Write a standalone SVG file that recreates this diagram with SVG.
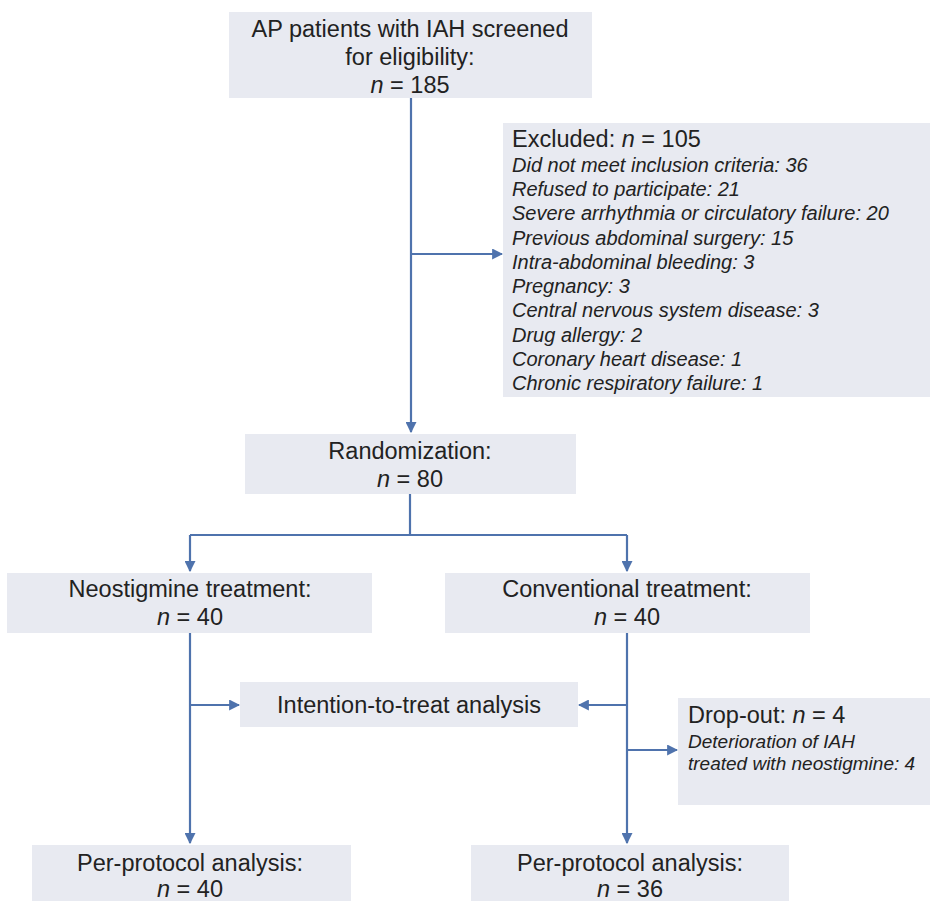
<svg xmlns="http://www.w3.org/2000/svg" width="930" height="901" viewBox="0 0 930 901">
<style>
.box{fill:#e8eaf1;}
.t{font-family:"Liberation Sans",Arial,sans-serif;font-size:23.5px;fill:#222;}
.c{text-anchor:middle;}
.s{font-family:"Liberation Sans",Arial,sans-serif;font-size:20px;font-style:italic;fill:#222;}
.ln{stroke:#4f73ad;stroke-width:2.2;fill:none;}
</style>
<defs>
<marker id="ah" viewBox="0 0 10 10" refX="9" refY="5" markerWidth="5" markerHeight="5" orient="auto" markerUnits="strokeWidth">
<path d="M0,0 L10,5 L0,10 z" fill="#4f73ad"/>
</marker>
</defs>
<rect width="930" height="901" fill="#ffffff"/>
<g id="connectors">
<path class="ln" d="M411,98 V432" marker-end="url(#ah)"/>
<path class="ln" d="M411,254 H502" marker-end="url(#ah)"/>
<path class="ln" d="M410,494 V535"/>
<path class="ln" d="M190,535 H627"/>
<path class="ln" d="M190,535 V571" marker-end="url(#ah)"/>
<path class="ln" d="M627,535 V571" marker-end="url(#ah)"/>
<path class="ln" d="M190,633 V843" marker-end="url(#ah)"/>
<path class="ln" d="M190,705 H239" marker-end="url(#ah)"/>
<path class="ln" d="M627,633 V843" marker-end="url(#ah)"/>
<path class="ln" d="M627,705 H579" marker-end="url(#ah)"/>
<path class="ln" d="M627,750 H677" marker-end="url(#ah)"/>
</g>
<g id="screened">
<rect class="box" x="229" y="12" width="363" height="86"/>
<text class="t c" x="410" y="37">AP patients with IAH screened</text>
<text class="t c" x="410" y="65">for eligibility:</text>
<text class="t c" x="410" y="93"><tspan font-style="italic">n</tspan> = 185</text>
</g>
<g id="excluded">
<rect class="box" x="503" y="123" width="427" height="274"/>
<text class="t" x="512" y="147">Excluded: <tspan font-style="italic">n</tspan> = 105</text>
<text class="s" x="512" y="172">Did not meet inclusion criteria: 36</text>
<text class="s" x="512" y="196">Refused to participate: 21</text>
<text class="s" x="512" y="220">Severe arrhythmia or circulatory failure: 20</text>
<text class="s" x="512" y="245">Previous abdominal surgery: 15</text>
<text class="s" x="512" y="269">Intra-abdominal bleeding: 3</text>
<text class="s" x="512" y="293">Pregnancy: 3</text>
<text class="s" x="512" y="317">Central nervous system disease: 3</text>
<text class="s" x="512" y="342">Drug allergy: 2</text>
<text class="s" x="512" y="366">Coronary heart disease: 1</text>
<text class="s" x="512" y="390">Chronic respiratory failure: 1</text>
</g>
<g id="randomization">
<rect class="box" x="245" y="434" width="331" height="60"/>
<text class="t c" x="410" y="459">Randomization:</text>
<text class="t c" x="410" y="487"><tspan font-style="italic">n</tspan> = 80</text>
</g>
<g id="neostigmine">
<rect class="box" x="7" y="573" width="365" height="60"/>
<text class="t c" x="190" y="597">Neostigmine treatment:</text>
<text class="t c" x="190" y="625"><tspan font-style="italic">n</tspan> = 40</text>
</g>
<g id="conventional">
<rect class="box" x="445" y="573" width="365" height="60"/>
<text class="t c" x="627" y="597">Conventional treatment:</text>
<text class="t c" x="627" y="625"><tspan font-style="italic">n</tspan> = 40</text>
</g>
<g id="itt">
<rect class="box" x="240" y="682" width="338" height="45"/>
<text class="t c" x="409" y="713">Intention-to-treat analysis</text>
</g>
<g id="dropout">
<rect class="box" x="678" y="698" width="252" height="107"/>
<text class="t" x="688" y="723">Drop-out: <tspan font-style="italic">n</tspan> = 4</text>
<text class="s" x="688" y="748" style="font-size:19px">Deterioration of IAH</text>
<text class="s" x="688" y="770" style="font-size:19px">treated with neostigmine: 4</text>
</g>
<g id="pp-left">
<rect class="box" x="32" y="845" width="319" height="56"/>
<text class="t c" x="190" y="871">Per-protocol analysis:</text>
<text class="t c" x="190" y="897"><tspan font-style="italic">n</tspan> = 40</text>
</g>
<g id="pp-right">
<rect class="box" x="471" y="845" width="318" height="56"/>
<text class="t c" x="630" y="871">Per-protocol analysis:</text>
<text class="t c" x="630" y="897"><tspan font-style="italic">n</tspan> = 36</text>
</g>
</svg>
